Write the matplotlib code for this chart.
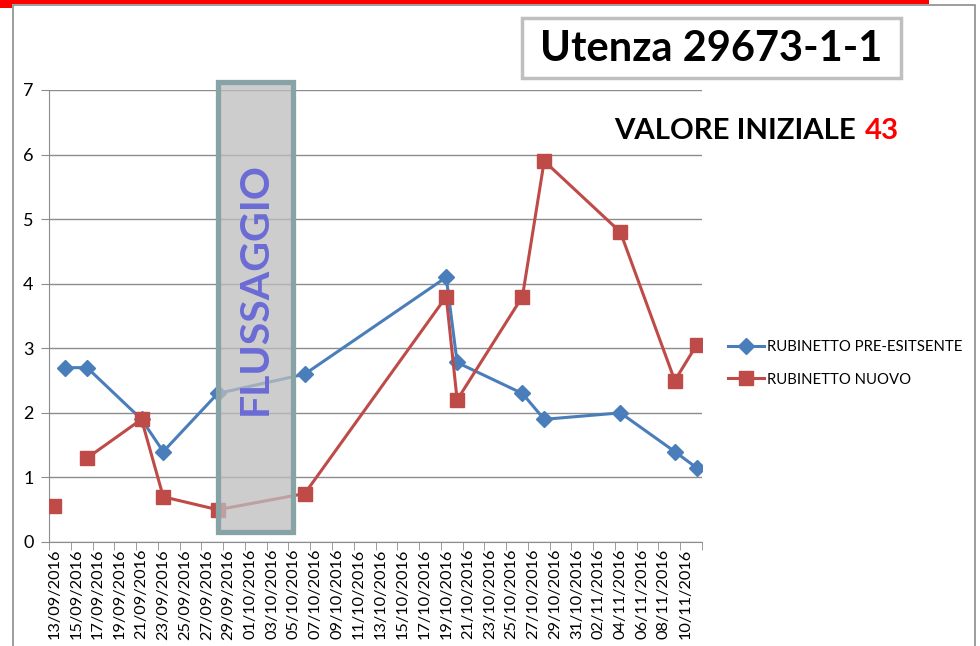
import matplotlib
matplotlib.use("Agg")
import matplotlib.pyplot as plt
from matplotlib.patches import Rectangle
import numpy as np
import pandas as pd

plt.rcParams['font.family'] = ['Lato', 'DejaVu Sans']

# dati
dates_blue = ["14/09/2016", "16/09/2016", "21/09/2016", "23/09/2016", "28/09/2016", "06/10/2016",
              "19/10/2016", "20/10/2016", "26/10/2016", "28/10/2016", "04/11/2016", "09/11/2016", "11/11/2016"]
vals_blue = [2.7, 2.7, 1.9, 1.4, 2.3, 2.6, 4.1, 2.78, 2.3, 1.9, 2.0, 1.4, 1.15]

dates_red_first = ["13/09/2016"]
vals_red_first = [0.55]
dates_red = ["16/09/2016", "21/09/2016", "23/09/2016", "28/09/2016", "06/10/2016",
             "19/10/2016", "20/10/2016", "26/10/2016", "28/10/2016", "04/11/2016", "09/11/2016", "11/11/2016"]
vals_red = [1.3, 1.9, 0.7, 0.5, 0.75, 3.8, 2.2, 3.8, 5.9, 4.8, 2.5, 3.05]

label_blue = "RUBINETTO PRE-ESITSENTE"
label_red = "RUBINETTO NUOVO"

start = pd.Timestamp("2016-09-13")
end = pd.Timestamp("2016-11-11")


def to_days(ds):
    return np.array([(pd.to_datetime(d, dayfirst=True) - start).days for d in ds])


W, H = 980, 646
fig = plt.figure(figsize=(W / 100, H / 100), dpi=100)


def fx(px):
    return px / W


def fy(py):
    return 1 - py / H


# cornice e linea rossa in alto
fig.patches.append(Rectangle((fx(12.5), fy(700)), fx(975) - fx(12.5), fy(5) - fy(700),
                             transform=fig.transFigure, facecolor='none', edgecolor='#8c8c8c', lw=1.2))
fig.patches.append(Rectangle((0, fy(3.5)), fx(929), fy(0) - fy(3.5), transform=fig.transFigure,
                             facecolor='#ff0000', edgecolor='none'))
fig.patches.append(Rectangle((0, fy(8)), fx(12), fy(0) - fy(8), transform=fig.transFigure,
                             facecolor='#ff0000', edgecolor='none'))

ax = fig.add_axes([fx(49), fy(542), fx(702) - fx(49), fy(90) - fy(542)])

ndays = (end - start).days + 1
ax.set_xlim(-0.5, ndays - 0.5)
ax.set_ylim(0, 7)

ax.plot(to_days(dates_blue), vals_blue, color='#4a7ebb', lw=2.2, marker='D', ms=8.5,
        label=label_blue, zorder=3)
ax.plot(to_days(dates_red), vals_red, color='#be4b48', lw=2.2, marker='s', ms=9.5,
        label=label_red, zorder=3)
ax.plot(to_days(dates_red_first), vals_red_first, color='#be4b48', lw=0, marker='s', ms=9.5, zorder=3)

# griglia e assi
ax.set_yticks(range(0, 8))
ax.yaxis.grid(True, color='#8c8c8c', lw=1)
ax.set_axisbelow(True)
for s in ['top', 'right']:
    ax.spines[s].set_visible(False)
for s in ['left', 'bottom']:
    ax.spines[s].set_color('#8c8c8c')
ax.tick_params(axis='y', length=6, color='#8c8c8c', labelsize=13, pad=5)

label_days = np.arange(0, ndays, 2)
tick_labels = [(start + pd.Timedelta(days=int(d))).strftime("%d/%m/%Y") for d in label_days]
ax.set_xticks(label_days)
ax.set_xticklabels(tick_labels, rotation=90, fontsize=11.8)
ax.tick_params(axis='x', which='major', length=0, pad=5)
ax.set_xticks(np.arange(-0.5, ndays, 2), minor=True)
ax.tick_params(axis='x', which='minor', length=6, color='#8c8c8c')

# riquadro FLUSSAGGIO
ax.add_patch(Rectangle((15.0, 0.16), 6.9, 6.97, facecolor='#bdbdbd', alpha=0.75,
                       edgecolor='none', zorder=4, clip_on=False))
ax.add_patch(Rectangle((15.0, 0.16), 6.9, 6.97, facecolor='none', edgecolor='#87a3a6',
                       lw=3.8, zorder=5, clip_on=False))
ax.text(18.45, 3.92, "FLUSSAGGIO", rotation=90, ha='center', va='center', fontsize=29.5,
        fontweight='bold', color='#6b6bd6', zorder=6)

# titolo
fig.patches.append(Rectangle((fx(521.5), fy(77.5)), fx(900.5) - fx(521.5), fy(18.5) - fy(77.5),
                             transform=fig.transFigure, facecolor='white', edgecolor='#bfbfbf', lw=2.5))
fig.text(fx(711), fy(49), "Utenza 29673-1-1", ha='center', va='center', fontsize=30,
         fontweight='bold', color='black')
fig.text(fx(614), fy(139), "VALORE INIZIALE", ha='left', va='baseline', fontsize=21.2,
         fontweight='bold', color='black')
fig.text(fx(899), fy(139), "43", ha='right', va='baseline', fontsize=21.2,
         fontweight='bold', color='#ff0000')

fig.legend(loc='upper left', bbox_to_anchor=(fx(722), fy(334)), frameon=False, fontsize=10.7,
           handlelength=2.4, handletextpad=0.2, labelspacing=1.25, borderaxespad=0)

fig.savefig("out.png", dpi=100)
